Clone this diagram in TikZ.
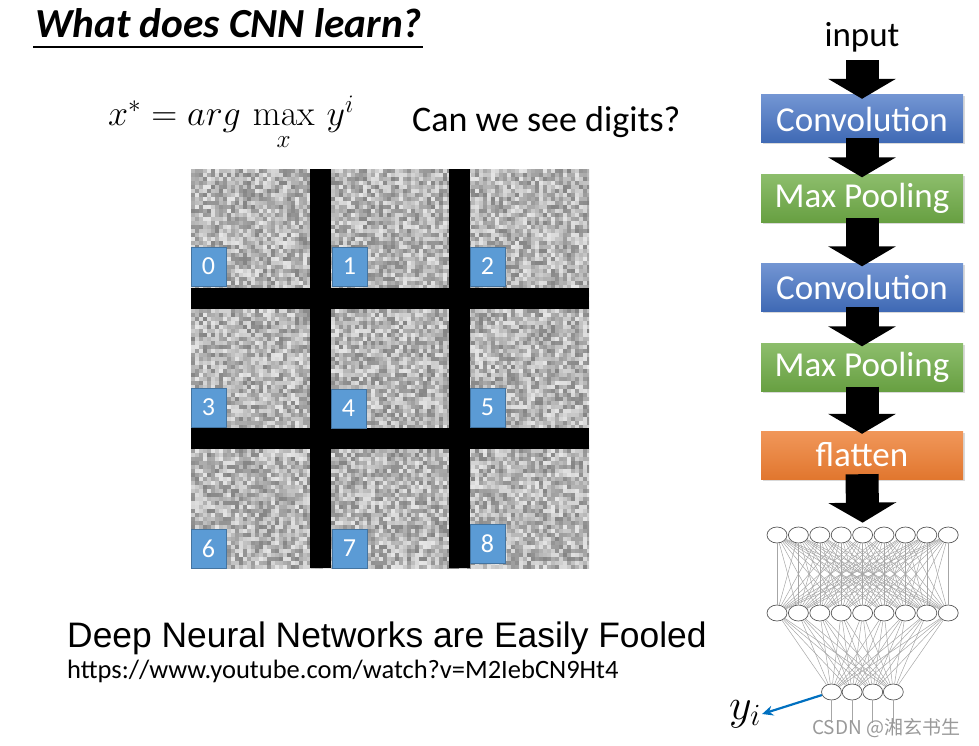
\documentclass[tikz,border=0pt]{standalone}
\usepackage{fix-cm}
\usepackage[no-math]{fontspec}
\setmainfont{Carlito}
\newfontfamily\arialfont{Liberation Sans}
\newfontfamily\cjkfont{Noto Sans CJK SC}
\usetikzlibrary{arrows.meta,positioning,shadows,shapes.geometric}

\definecolor{convblue}{RGB}{68,114,196}
\definecolor{poolgreen}{RGB}{112,173,71}
\definecolor{flatorange}{RGB}{237,125,49}
\definecolor{tagblue}{RGB}{91,155,213}
\definecolor{linkblue}{RGB}{0,112,192}

\tikzset{
  layer/.style={rectangle, minimum width=202, minimum height=48, inner sep=0pt,
    text=white, font=\fontsize{35}{35}\selectfont,
    drop shadow={shadow xshift=1.5pt,shadow yshift=-1.5pt,opacity=0.3}},
  convbox/.style={layer, top color=convblue!75!white, bottom color=convblue!92!black},
  poolbox/.style={layer, top color=poolgreen!80!white, bottom color=poolgreen!92!black},
  flatbox/.style={layer, top color=flatorange!80!white, bottom color=flatorange!95!black},
  blockarrow/.style={black, line width=33pt, -{Triangle[length=20pt,width=67pt]}},
  tag/.style={rectangle, fill=tagblue, draw=tagblue!75!black, line width=0.6,
    minimum width=35, minimum height=39, inner sep=0pt, text=white,
    font=\fontsize{26}{26}\selectfont},
  neuron/.style={ellipse, draw=black!65, fill=white, minimum width=20, minimum height=16, inner sep=0pt, line width=0.7},
  synapse/.style={black!35, line width=0.5}
}

\begin{document}
\begin{tikzpicture}[x=1pt,y=-1pt]
\useasboundingbox (0,0) rectangle (979,746);

% title and formula
\node[anchor=base west, inner sep=0pt, font=\bfseries\itshape\fontsize{41.3}{42}\selectfont] (title) at (35,38) {What does CNN learn?};
\draw[line width=2.5] ([xshift=-2,yshift=-9]title.base west) -- ([xshift=1,yshift=-9]title.base east);
\node[anchor=base west, inner sep=0pt, font=\fontsize{36}{40}\selectfont] (formula) at (108,126) {$x^* = arg\,\max\limits_{\rule{0pt}{20pt}x}\, y^i$};
\node[anchor=base west, inner sep=0pt, font=\fontsize{36}{38}\selectfont] (question) at (412,132) {Can we see digits?};

% noise image
\begin{scope}
  \clip (191,169) rectangle (589,568);
  \pgfmathsetseed{42}
  \foreach \i in {0,...,99}
    \foreach \j in {0,...,99} {
      \pgfmathsetmacro\g{random(10,48)}
      \fill[black!\g] ({191+4*\i},{169+4*\j}) rectangle ++(4.05,4.05);
    }
\end{scope}
\fill[black] (310,169) rectangle (331,568);
\fill[black] (449,169) rectangle (470,568);
\fill[black] (191,288) rectangle (589,309);
\fill[black] (191,428) rectangle (589,449);

% digit tags
\node[tag] (d0) at (208.5,266.5) {0};
\node[tag] (d1) at (349.5,266.5) {1};
\node[tag] (d2) at (487.5,266.5) {2};
\node[tag] (d3) at (208.5,407.5) {3};
\node[tag] (d4) at (348.5,408.5) {4};
\node[tag] (d5) at (487.5,407.5) {5};
\node[tag] (d6) at (208.5,548.5) {6};
\node[tag] (d7) at (349.5,548.5) {7};
\node[tag] (d8) at (487.5,543.5) {8};

% caption
\node[anchor=base west, inner sep=0pt, font=\arialfont\fontsize{35.4}{36}\selectfont] (fooled) at (67,647) {Deep Neural Networks are Easily Fooled};
\node[anchor=base west, inner sep=0pt, font=\fontsize{26.5}{27}\selectfont] (link) at (67,678) {https://www.youtube.com/watch?v=M2IebCN9Ht4};

% CNN pipeline
\node[font=\fontsize{35}{35}\selectfont, inner sep=0pt] (input) at (862,37) {input};
\node[convbox] (conv1) at (862,119) {Convolution};
\node[poolbox] (pool1) at (862,198.5) {Max Pooling};
\node[convbox] (conv2) at (862,287.5) {Convolution};
\node[poolbox] (pool2) at (862,367.5) {Max Pooling};
\node[flatbox] (flat) at (862,455) {flatten};

\draw[blockarrow] ([yshift=-8]input.south) -- ([yshift=-4]conv1.north);
\draw[blockarrow] ([yshift=5]conv1.south) -- ([yshift=-3]pool1.north);
\draw[blockarrow] ([yshift=5]pool1.south) -- ([yshift=-3]conv2.north);
\draw[blockarrow] ([yshift=5]conv2.south) -- ([yshift=-3]pool2.north);
\draw[blockarrow] ([yshift=5]pool2.south) -- ([yshift=-3]flat.north);

% fully connected network
\foreach \i in {1,...,9} {
  \node[neuron] (h1-\i) at ({777+21.4*(\i-1)},535) {};
  \node[neuron] (h2-\i) at ({777+21.4*(\i-1)},613) {};
}
\foreach \k in {1,...,4} {
  \node[neuron] (out\k) at ({831.5+20.6*(\k-1)},692) {};
  \coordinate (end\k) at ({831.5+20.6*(\k-1)},723);
}
\draw[blockarrow] ([yshift=5]flat.south) -- ([yshift=4]h1-5.north);
\foreach \i in {1,...,9}
  \foreach \j in {1,...,9}
    \draw[synapse] (h1-\i) -- (h2-\j);
\foreach \i in {1,...,9}
  \foreach \k in {1,...,4}
    \draw[synapse] (h2-\i) -- (out\k);
\foreach \k in {1,...,4}
  \draw[synapse] (out\k) -- (end\k);

% output label
\node[inner sep=1pt, font=\fontsize{44}{44}\selectfont] (yi) at (745,714) {$y_i$};
\draw[linkblue, line width=2.2, -{Stealth[length=11pt,width=10pt]}] (out1) -- (yi.east);

\node[anchor=base west, inner sep=0pt, text=black!40, font=\cjkfont\fontsize{19}{19}\selectfont] (mark) at (812,734) {CSDN @湘玄书生};
\end{tikzpicture}
\end{document}
